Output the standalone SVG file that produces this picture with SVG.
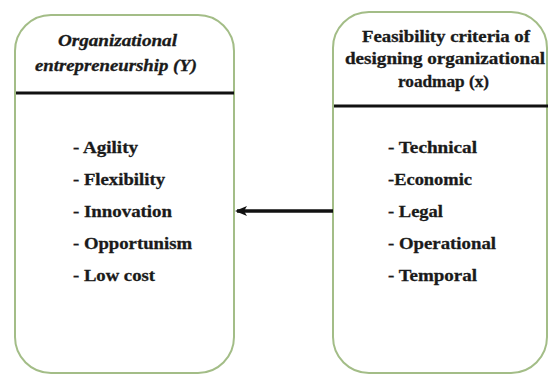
<svg xmlns="http://www.w3.org/2000/svg" width="548" height="376" viewBox="0 0 548 376">
  <defs>
    <style>
      .box { fill: #ffffff; stroke: #a3bd87; stroke-width: 2; }
      .rule { stroke: #111111; stroke-width: 3; }
      .txt { font-weight: bold; fill: #1a1a1a; stroke: #1a1a1a; stroke-width: 0.3; }
      .hd { font-size: 16px; }
      .it { font-style: italic; }
      .item { font-size: 17px; }
      .conn { stroke: #111111; stroke-width: 3.5; fill: none; }
    </style>
    <marker id="head" markerWidth="12" markerHeight="12" refX="10" refY="6" orient="auto" markerUnits="userSpaceOnUse">
      <path d="M0,1 L12,6 L0,11 L3,6 Z" fill="#111111"/>
    </marker>
  </defs>
  <rect width="548" height="376" fill="#ffffff"/>

  <!-- Dependent variable box -->
  <g id="node-entrepreneurship" class="txt" font-family="Liberation Serif, Times New Roman, serif">
    <rect class="box" x="15" y="15" width="219" height="358" rx="36" ry="36"/>
    <line class="rule" x1="16" y1="93" x2="234" y2="93"/>
    <text class="hd it" x="58" y="46" textLength="119" lengthAdjust="spacingAndGlyphs">Organizational</text>
    <text class="hd it" x="35" y="71" textLength="162" lengthAdjust="spacingAndGlyphs">entrepreneurship (Y)</text>
    <text class="item" x="73" y="153" textLength="65" lengthAdjust="spacingAndGlyphs">- Agility</text>
    <text class="item" x="73" y="185" textLength="92" lengthAdjust="spacingAndGlyphs">- Flexibility</text>
    <text class="item" x="73" y="217" textLength="99" lengthAdjust="spacingAndGlyphs">- Innovation</text>
    <text class="item" x="73" y="249" textLength="119" lengthAdjust="spacingAndGlyphs">- Opportunism</text>
    <text class="item" x="73" y="281" textLength="82" lengthAdjust="spacingAndGlyphs">- Low cost</text>
  </g>

  <!-- Independent variable box -->
  <g id="node-feasibility" class="txt" font-family="Liberation Serif, Times New Roman, serif">
    <rect class="box" x="333" y="12" width="214" height="361" rx="36" ry="36"/>
    <line class="rule" x1="334" y1="106" x2="548" y2="106"/>
    <text class="hd" x="362" y="42" textLength="168" lengthAdjust="spacingAndGlyphs">Feasibility criteria of</text>
    <text class="hd" x="345" y="64" textLength="200" lengthAdjust="spacingAndGlyphs">designing organizational</text>
    <text class="hd" x="398" y="87" textLength="91" lengthAdjust="spacingAndGlyphs">roadmap (x)</text>
    <text class="item" x="388" y="153" textLength="89" lengthAdjust="spacingAndGlyphs">- Technical</text>
    <text class="item" x="388" y="185" textLength="84" lengthAdjust="spacingAndGlyphs">-Economic</text>
    <text class="item" x="388" y="217" textLength="55" lengthAdjust="spacingAndGlyphs">- Legal</text>
    <text class="item" x="388" y="249" textLength="108" lengthAdjust="spacingAndGlyphs">- Operational</text>
    <text class="item" x="388" y="281" textLength="89" lengthAdjust="spacingAndGlyphs">- Temporal</text>
  </g>

  <!-- Connectors -->
  <g id="connectors">
    <line class="conn" x1="333" y1="211" x2="237" y2="211" marker-end="url(#head)"/>
  </g>
</svg>
